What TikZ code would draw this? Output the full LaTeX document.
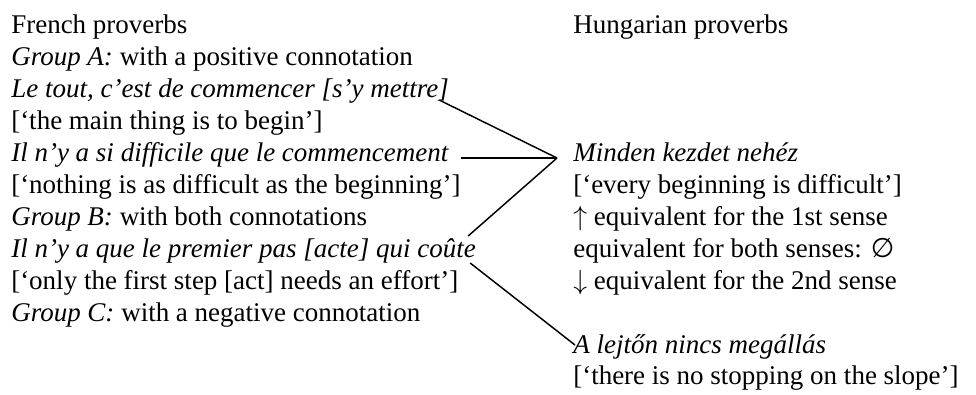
\documentclass[tikz,border=0pt]{standalone}
\usepackage{fontspec}
\setmainfont{Liberation Serif}
\newfontfamily\symfont{DejaVu Sans}
\usetikzlibrary{calc}

\begin{document}
\begin{tikzpicture}[x=0.75pt, y=-0.75pt,
  txt/.style={anchor=base west, inner sep=0pt, font=\fontsize{20.25}{24}\selectfont},
  link/.style={black, line width=1.1pt}]

\useasboundingbox (0,0) rectangle (976,394);

% French column
\foreach \txt [count=\i from 0] in {French proverbs,
  {\textit{Group A:} with a positive connotation},
  {\textit{Le tout, c’est de commencer [s’y mettre]}},
  {[‘the main thing is to begin’]},
  {\textit{Il n’y a si difficile que le commencement}},
  {[‘nothing is as difficult as the beginning’]},
  {\textit{Group B:} with both connotations},
  {\textit{Il n’y a que le premier pas [acte] qui coûte}},
  {[‘only the first step [act] needs an effort’]},
  {\textit{Group C:} with a negative connotation}}
 \node[txt] (fr\i) at (11,{33+32*\i}) {\txt};

% Hungarian column
\node[txt] (hu0) at (573,33) {Hungarian proverbs};
\node[txt] (minden) at (573,161) {\textit{Minden kezdet nehéz}};
\node[txt] (hu2) at (573,193) {[‘every beginning is difficult’]};
\node[txt] (hu3) at (573,225) {$\uparrow$ equivalent for the 1st sense};
\node[txt] (hu4) at (573,257) {equivalent for both senses: {\symfont ∅}};
\node[txt] (hu5) at (573,289) {$\downarrow$ equivalent for the 2nd sense};
\node[txt] (lejto) at (573,353) {\textit{A lejtőn nincs megállás}};
\node[txt] (hu7) at (573,384) {[‘there is no stopping on the slope’]};

\coordinate (hub) at ($(minden.base west)+(-16,-3)$);
\draw[link] ($(fr2.base east)+(-10,3)$) -- (hub);
\draw[link] ($(fr4.base east)+(12,-3)$) -- (hub);
\draw[link] ($(fr7.base east)+(-8,-21)$) -- (hub);
\draw[link] ($(fr7.base east)+(-6,6)$) -- ($(lejto.base west)+(2,-8)$);

\end{tikzpicture}
\end{document}
